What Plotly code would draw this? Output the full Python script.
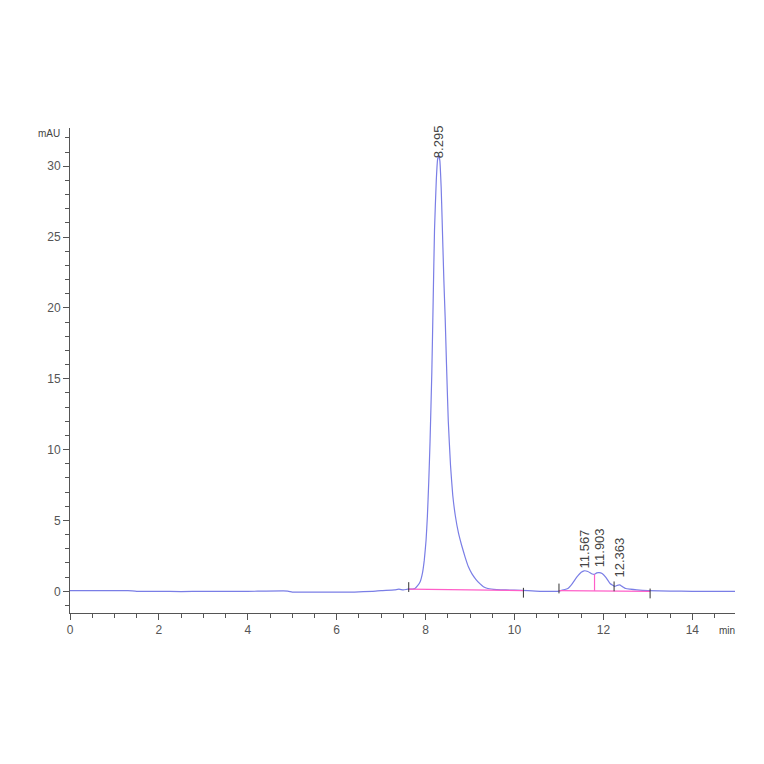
import plotly.graph_objects as go

# chromatogram trace (time in min, signal in mAU)
t = [0.0, 0.5, 1.0, 1.3, 1.5, 2.0, 2.5, 3.0, 4.0, 4.9, 5.0, 5.5, 6.0, 6.4, 6.8, 7.0,
     7.3, 7.4, 7.5, 7.6, 7.7, 7.76, 7.82, 7.88, 7.93, 7.97, 8.01, 8.04, 8.07, 8.1,
     8.14, 8.17, 8.2, 8.24, 8.27, 8.295, 8.32, 8.35, 8.37, 8.41, 8.44, 8.47, 8.51,
     8.56, 8.61, 8.67, 8.74, 8.81, 8.89, 8.96, 9.04, 9.13, 9.22, 9.3, 9.4, 9.6, 9.8,
     10.0, 10.3, 10.6, 11.0, 11.1, 11.2, 11.3, 11.4, 11.5, 11.567, 11.65, 11.75, 11.8,
     11.85, 11.903, 11.97, 12.05, 12.15, 12.25, 12.31, 12.363, 12.42, 12.5, 12.6,
     12.75, 13.0, 13.5, 14.0, 14.5, 14.96]
mau = [0.05, 0.05, 0.05, 0.05, 0.0, 0.0, -0.02, 0.0, 0.0, 0.02, -0.05, -0.05, -0.05,
       -0.05, 0.0, 0.05, 0.1, 0.15, 0.1, 0.15, 0.15, 0.2, 0.4, 0.7, 1.3, 2.2, 3.6, 5.3,
       7.7, 10.6, 15.5, 20.5, 25.5, 29.0, 30.5, 30.8, 30.4, 28.5, 26.4, 22.0, 19.3,
       16.0, 12.0, 8.9, 6.8, 5.3, 4.1, 3.25, 2.4, 1.75, 1.25, 0.85, 0.54, 0.33, 0.2,
       0.12, 0.1, 0.08, 0.05, 0.0, 0.02, 0.1, 0.2, 0.55, 1.0, 1.35, 1.45, 1.4, 1.22,
       1.2, 1.3, 1.32, 1.25, 1.0, 0.55, 0.35, 0.42, 0.45, 0.35, 0.2, 0.15, 0.1, 0.05,
       0.02, 0.0, 0.0, 0.0]

# integration baselines
base1_t = [7.62, 10.2]
base1_y = [0.15, 0.05]
base2_t = [11.0, 13.05]
base2_y = [0.05, 0.0]
drop_t = [11.8, 11.8]
drop_y = [0.04, 1.2]

# peak start/end event marks
event_t = [7.62, 10.2, 11.0, 13.05, 12.24]
event_y = [0.3, -0.1, 0.2, -0.15, 0.35]

# retention time labels
peak_rt = [8.295, 11.567, 11.903, 12.363]
peak_h = [30.8, 1.45, 1.32, 0.45]
peak_lbl = ["8.295", "11.567", "11.903", "12.363"]
lbl_shift = [-5, 0, 3, 5]

fig = go.Figure()
fig.add_trace(go.Scatter(x=t, y=mau, mode="lines", line=dict(color="#7a7ee6", width=1.2, shape="spline", smoothing=0.4)))
pink = dict(color="#ff5fc8", width=1.2)
fig.add_trace(go.Scatter(x=base1_t, y=base1_y, mode="lines", line=pink))
fig.add_trace(go.Scatter(x=base2_t, y=base2_y, mode="lines", line=pink))
fig.add_trace(go.Scatter(x=drop_t, y=drop_y, mode="lines", line=pink))
fig.add_trace(go.Scatter(x=event_t, y=event_y, mode="markers",
                         marker=dict(symbol="line-ns", size=7, line=dict(color="#333333", width=1))))

for x, h, s, sh in zip(peak_rt, peak_h, peak_lbl, lbl_shift):
    fig.add_annotation(x=x, y=h, text=s, textangle=-90, showarrow=False,
                       xanchor="center", yanchor="bottom", yshift=sh,
                       font=dict(family="Liberation Sans, Arial", size=13, color="#444444"))

axis_font = dict(family="Liberation Sans, Arial", size=12, color="#555555")
fig.update_xaxes(range=[0, 14.96], dtick=2, ticks="outside", ticklen=6, tickcolor="#555555",
                 showline=True, linecolor="#555555", linewidth=1, showgrid=False, zeroline=False,
                 tickfont=axis_font,
                 minor=dict(dtick=0.5, ticks="outside", ticklen=4, tickcolor="#555555"))
fig.update_yaxes(range=[-1.53, 32.7], dtick=5, ticks="outside", ticklen=6, tickcolor="#555555",
                 showline=True, linecolor="#555555", linewidth=1, showgrid=False, zeroline=False,
                 tickfont=axis_font,
                 minor=dict(dtick=1, ticks="outside", ticklen=4, tickcolor="#555555"))

fig.add_annotation(xref="paper", yref="paper", x=-0.012, y=1.0, text="mAU", showarrow=False,
                   xanchor="right", yanchor="middle", yshift=-5,
                   font=dict(family="Liberation Sans, Arial", size=10, color="#444444"))
fig.add_annotation(xref="paper", yref="paper", x=1.0, y=0.0, text="min", showarrow=False,
                   xanchor="right", yanchor="top", xshift=2, yshift=-10,
                   font=dict(family="Liberation Sans, Arial", size=10, color="#444444"))

fig.update_layout(width=764, height=764, showlegend=False,
                  margin=dict(l=62, r=37, t=120, b=159),
                  plot_bgcolor="white", paper_bgcolor="white",
                  font=dict(family="Liberation Sans, Arial"))
fig.write_html("out.html")
